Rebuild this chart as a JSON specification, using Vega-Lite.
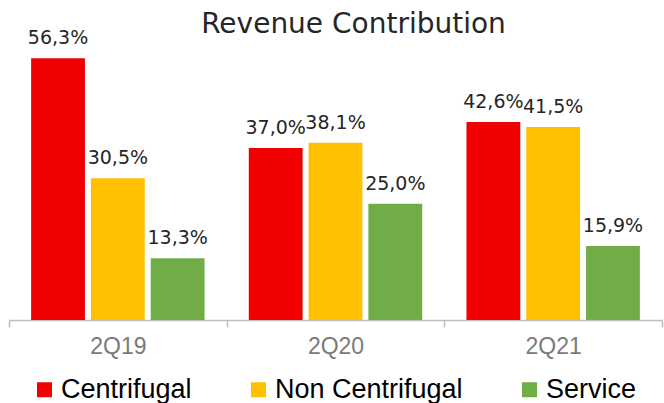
{
  "$schema": "https://vega.github.io/schema/vega-lite/v6.json",
  "autosize": {"type": "none"},
  "width": 653,
  "height": 279,
  "padding": {"left": 9, "top": 41, "right": 2, "bottom": 83},
  "background": "white",
  "config": {
    "view": {"stroke": null},
    "locale": {"number": {"decimal": ",", "thousands": ".", "grouping": [3], "currency": ["", "€"]}}
  },
  "title": {
    "text": "Revenue Contribution",
    "font": "DejaVu Sans",
    "fontSize": 28,
    "fontWeight": "normal",
    "color": "#262626",
    "anchor": "middle",
    "frame": "group",
    "dx": 18,
    "offset": -10
  },
  "data": {
    "values": [
      {"quarter": "2Q19", "segment": "Centrifugal", "share": 0.563},
      {"quarter": "2Q19", "segment": "Non Centrifugal", "share": 0.305},
      {"quarter": "2Q19", "segment": "Service", "share": 0.133},
      {"quarter": "2Q20", "segment": "Centrifugal", "share": 0.370},
      {"quarter": "2Q20", "segment": "Non Centrifugal", "share": 0.381},
      {"quarter": "2Q20", "segment": "Service", "share": 0.250},
      {"quarter": "2Q21", "segment": "Centrifugal", "share": 0.426},
      {"quarter": "2Q21", "segment": "Non Centrifugal", "share": 0.415},
      {"quarter": "2Q21", "segment": "Service", "share": 0.159}
    ]
  },
  "encoding": {
    "x": {
      "field": "quarter",
      "type": "nominal",
      "scale": {"paddingInner": 0, "paddingOuter": 0},
      "axis": {
        "title": null,
        "labelAngle": 0,
        "labelFont": "Liberation Sans",
        "labelFontSize": 23,
        "labelColor": "#7a7a7a",
        "labelPadding": 8,
        "domainColor": "#bfbfbf",
        "domainWidth": 1.5,
        "tickColor": "#bfbfbf",
        "tickWidth": 1.5,
        "tickSize": 7,
        "tickBand": "extent"
      }
    },
    "xOffset": {
      "field": "segment",
      "type": "nominal",
      "scale": {"paddingInner": 0.1, "paddingOuter": 0.37}
    },
    "y": {
      "field": "share",
      "type": "quantitative",
      "scale": {"domain": [0, 0.6]},
      "axis": null
    }
  },
  "layer": [
    {
      "mark": {"type": "bar"},
      "encoding": {
        "color": {
          "field": "segment",
          "type": "nominal",
          "scale": {
            "domain": ["Centrifugal", "Non Centrifugal", "Service"],
            "range": ["#F00000", "#FFC000", "#70AD47"]
          },
          "legend": {
            "title": null,
            "orient": "none",
            "legendX": 22,
            "legendY": 335,
            "direction": "horizontal",
            "symbolType": "square",
            "symbolSize": 225,
            "symbolStrokeWidth": 0,
            "symbolOpacity": 1,
            "labelFont": "Liberation Sans",
            "labelFontSize": 27,
            "labelColor": "#000000",
            "labelLimit": 400,
            "columnPadding": 53,
            "labelOffset": 3
          }
        }
      }
    },
    {
      "mark": {
        "type": "text",
        "baseline": "bottom",
        "dy": -10,
        "font": "DejaVu Sans",
        "fontSize": 19,
        "color": "#262626"
      },
      "encoding": {
        "text": {"field": "share", "type": "quantitative", "format": ".1%"}
      }
    }
  ]
}
